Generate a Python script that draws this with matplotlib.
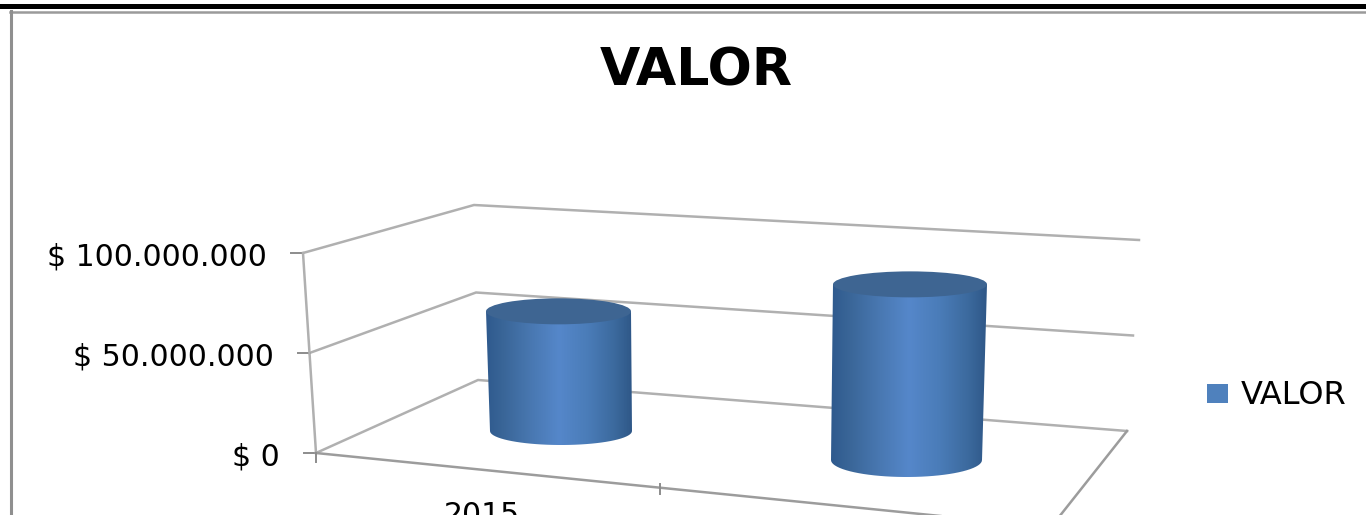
import matplotlib
matplotlib.use('Agg')
import matplotlib.pyplot as plt
from matplotlib.colors import LinearSegmentedColormap
from matplotlib.patches import Ellipse, PathPatch, Rectangle
from matplotlib.path import Path
import numpy as np

years = ['2015', '2016']
valor = [62000000, 91000000]
tick_values = [0, 50000000, 100000000]
tick_labels = ['$ 0', '$ 50.000.000', '$ 100.000.000']

LABEL_FONT = ['DejaVu Sans']
GRID = '#b0b0b0'
TOP = '#3e6592'

PX_PER_VALUE = 193 / 100000000


def lerp(a, b, t):
    return a + (b - a) * t


def front_wall(v):
    t = v / tick_values[-1]
    return lerp(316, 303, t), lerp(453, 253, t)


def back_left(v):
    t = v / tick_values[-1]
    return lerp(478, 474, t), lerp(380, 205, t)


def back_right(v):
    t = v / tick_values[-1]
    return lerp(1127, 1139, t), lerp(431, 240, t)


def draw_cylinder(ax, value, x0_top, x1_top, x0_bot, x1_bot, y_base, ry_bot, cmap):
    y_top = y_base - value * PX_PER_VALUE
    ry_top = 13
    cx_bot = (x0_bot + x1_bot) / 2
    rx_bot = (x1_bot - x0_bot) / 2

    a = np.linspace(np.pi, 0, 40)
    xs = np.concatenate([[x0_top], cx_bot + rx_bot * np.cos(a), [x1_top]])
    ys = np.concatenate([[y_top], y_base + ry_bot * np.sin(a), [y_top]])
    body = PathPatch(Path(np.column_stack([xs, ys])), fc='none', ec='none', zorder=3)
    ax.add_patch(body)

    grad = np.linspace(0, 1, 200).reshape(1, -1)
    left, right = min(x0_top, x0_bot), max(x1_top, x1_bot)
    im = ax.imshow(grad, cmap=cmap, extent=[left, right, y_base + ry_bot, y_top],
                   aspect='auto', zorder=3)
    im.set_clip_path(body)

    cx_top = (x0_top + x1_top) / 2
    ax.add_patch(Ellipse((cx_top, y_top), x1_top - x0_top, 2 * ry_top,
                         fc=TOP, ec='none', zorder=4))


fig = plt.figure(figsize=(13.66, 5.15), dpi=100)
ax = fig.add_axes([0, 0, 1, 1])

# top bar and chart frame
ax.add_patch(Rectangle((0, 4), 1366, 5, fc='black', ec='none'))
ax.plot([10, 1366], [11.5, 11.5], color='#9a9a9a', lw=1.8)
ax.plot([10.5, 10.5], [11, 515], color='#8f8f8f', lw=2.2)

ax.text(696, 71, 'VALOR', fontsize=37.5, fontweight='bold', family=LABEL_FONT,
        ha='center', va='center', color='black')

# walls, gridlines and ticks
for v, lab in zip(tick_values, tick_labels):
    fx, fy = front_wall(v)
    bx, by = back_left(v)
    rx, ry = back_right(v)
    ax.plot([fx, bx, rx], [fy, by, ry], color=GRID, lw=1.8, zorder=1, solid_joinstyle='round')
    ax.plot([fx - 12, fx], [fy, fy], color='#8c8c8c', lw=1.4, zorder=1)
    ax.text(fx - 36, fy + 4, lab, fontsize=21.5, family=LABEL_FONT, ha='right', va='center',
            color='black')

ax.plot([front_wall(0)[0], front_wall(tick_values[-1])[0]],
        [front_wall(0)[1], front_wall(tick_values[-1])[1]], color=GRID, lw=1.8, zorder=1)

# floor front and right edges
ax.plot([316, 1000], [453, 522], color='#9c9c9c', lw=1.8, zorder=1)
ax.plot([1127, 1055], [431, 522], color='#9c9c9c', lw=1.8, zorder=1)
ax.plot([316, 316], [453, 462], color='#8c8c8c', lw=1.4, zorder=1)
ax.plot([660, 660], [484, 494], color='#8c8c8c', lw=1.4, zorder=1)

ax.text(482, 515, years[0], fontsize=21.5, family=LABEL_FONT, ha='center', va='center',
        color='black', clip_on=True)

cmap = LinearSegmentedColormap.from_list('cyl', [
    (0.0, '#2f5a8e'), (0.12, '#3a6698'), (0.3, '#4877b0'), (0.5, '#5587ca'),
    (0.7, '#4a7cb8'), (0.88, '#3c6a9e'), (1.0, '#2f5888')])

draw_cylinder(ax, valor[0], 486, 631, 490, 632, 431, 14, cmap)
draw_cylinder(ax, valor[1], 833, 987, 831, 982, 460, 17, cmap)

# legend
ax.add_patch(Rectangle((1207, 384), 21, 19, fc='#4f81bd', ec='none'))
ax.text(1241, 396, 'VALOR', fontsize=23, family=LABEL_FONT, ha='left', va='center', color='black')

ax.set_xlim(0, 1366)
ax.set_ylim(515, 0)
ax.axis('off')

fig.savefig('out.png', dpi=100, facecolor='white')
